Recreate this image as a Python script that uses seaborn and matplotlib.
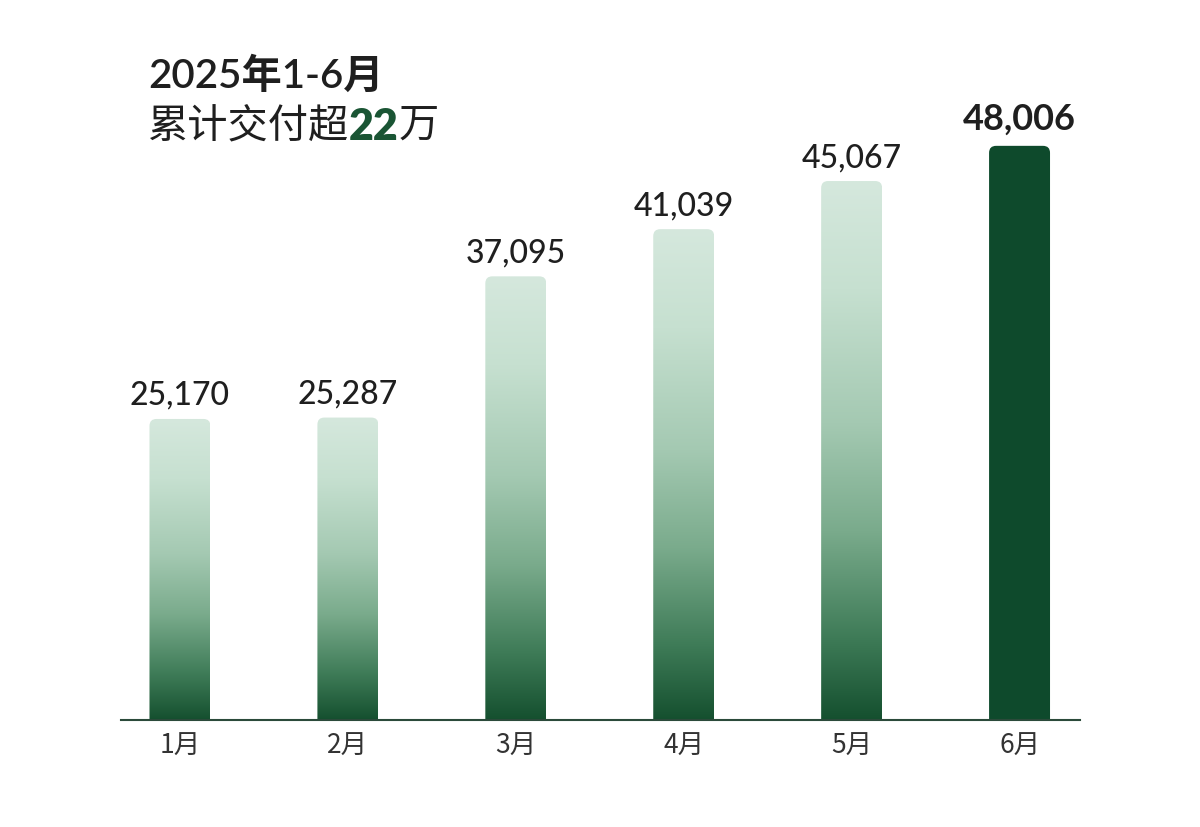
import numpy as np
import pandas as pd
import matplotlib
matplotlib.use("Agg")
import matplotlib.pyplot as plt
import seaborn as sns
from matplotlib.colors import LinearSegmentedColormap
from matplotlib.patches import FancyBboxPatch

# =============================================================================
# DATA
# =============================================================================

months = ["1月", "2月", "3月", "4月", "5月", "6月"]
deliveries = [25170, 25287, 37095, 41039, 45067, 48006]
highlight = "6月"

title_line1 = "2025年1-6月"
title_prefix = "累计交付超"
title_number = "22"
title_suffix = "万"

# =============================================================================
# STYLE
# =============================================================================

sns.set_theme(style="white")
plt.rcParams["font.family"] = ["Lato", "Noto Sans CJK SC", "DejaVu Sans"]

dark_green = "#0e4a2c"
text_color = "#1f1f1f"

grad_cmap = LinearSegmentedColormap.from_list(
    "bar_grad",
    [
        (0.00, "#15502f"),
        (0.15, "#3e7b57"),
        (0.35, "#7aab8c"),
        (0.55, "#a4c9b2"),
        (0.80, "#c6e0d0"),
        (1.00, "#d5e8dd"),
    ],
)

Y_TOP = 60200

fig = plt.figure(figsize=(12, 8.27), dpi=100)
ax = fig.add_axes([0.101, 0.1294, 0.799, 0.8706])

df = pd.DataFrame({"month": months, "value": deliveries})

sns.barplot(data=df, x="month", y="value", ax=ax, width=0.363,
            color="white", edgecolor="none")

ax.set_xlim(-0.35, 5.36)
ax.set_ylim(0, Y_TOP)

# px -> data conversions for rounding
x_per_px = (5.36 + 0.35) / (0.799 * 1200)
y_per_px = Y_TOP / (0.8706 * 827)
radius_px = 7
aspect = y_per_px / x_per_px

gradient = np.linspace(0, 1, 256).reshape(-1, 1)

for patch, month, value in zip(ax.patches, months, deliveries):
    x0 = patch.get_x()
    w = patch.get_width()
    h = patch.get_height()
    patch.set_visible(False)
    is_hl = month == highlight

    rounded = FancyBboxPatch(
        (x0, -radius_px * y_per_px * 2), w, h + radius_px * y_per_px * 2,
        boxstyle=f"round,pad=0,rounding_size={radius_px * x_per_px}",
        mutation_aspect=aspect,
        facecolor=dark_green if is_hl else "none",
        edgecolor="none",
        transform=ax.transData,
        clip_on=True,
    )
    ax.add_patch(rounded)

    if not is_hl:
        img = ax.imshow(
            gradient, cmap=grad_cmap, origin="lower", aspect="auto",
            extent=(x0, x0 + w, 0, h), interpolation="bilinear", zorder=2,
        )
        img.set_clip_path(rounded)
        rounded.set_visible(False)

    # value labels
    ax.annotate(
        f"{value:,}",
        xy=(x0 + w / 2, h),
        xytext=(0, 10 if is_hl else 8),
        textcoords="offset pixels",
        ha="center", va="bottom",
        fontsize=26 if is_hl else 23,
        fontweight="bold" if is_hl else "medium",
        color=text_color,
    )

ax.set_xlim(-0.35, 5.36)
ax.set_ylim(0, Y_TOP)

# axes styling
sns.despine(ax=ax, left=True, top=True, right=True)
ax.spines["bottom"].set_color("#2b4a3a")
ax.spines["bottom"].set_linewidth(1.5)
ax.set_yticks([])
ax.set_xlabel("")
ax.set_ylabel("")
ax.tick_params(axis="x", length=0, pad=9, labelsize=19, labelcolor="#333333")
for lbl in ax.get_xticklabels():
    lbl.set_fontfamily(["Noto Sans CJK SC", "DejaVu Sans"])
    lbl.set_fontweight("light")

# =============================================================================
# TITLE
# =============================================================================

fig.text(148 / 1200, 1 - 88 / 827, title_line1, fontsize=29,
         color=text_color, ha="left", va="baseline", fontweight="semibold")

t1 = fig.text(148 / 1200, 1 - 138 / 827, title_prefix, fontsize=29,
              color=text_color, ha="left", va="baseline",
              family=["Noto Sans CJK SC", "DejaVu Sans"],
              fontweight="medium")
t2 = ax.annotate(title_number, xy=(1, 0), xycoords=t1, va="bottom",
                 ha="left", fontsize=31, fontweight="heavy",
                 color="#1a5534", annotation_clip=False)
t3 = ax.annotate(title_suffix, xy=(1, 0), xycoords=t2, va="bottom",
                 ha="left", fontsize=29, color=text_color,
                 family=["Noto Sans CJK SC", "DejaVu Sans"],
                 fontweight="medium", annotation_clip=False)

fig.savefig("out.png", dpi=100, facecolor="white")
